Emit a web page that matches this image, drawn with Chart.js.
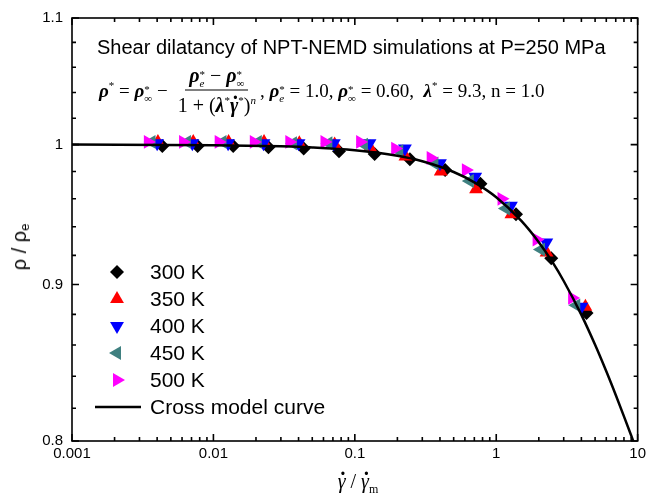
<!DOCTYPE html>
<html>
<head>
<meta charset="utf-8">
<script src="https://cdn.jsdelivr.net/npm/chart.js@4.4.1/dist/chart.umd.min.js"></script>
<style>
html,body{margin:0;padding:0;background:#fff;}
#wrap{position:relative;width:650px;height:502px;overflow:hidden;}
#c{position:absolute;left:0;top:0;}
.ann{position:absolute;white-space:nowrap;color:#000;line-height:1;}
#title{left:97px;top:47px;transform:translateY(-50%);font:20px "Liberation Sans",Arial,sans-serif;}
#ytitle{left:20px;top:247px;transform:translate(-50%,-50%) rotate(-90deg);font:20px "Liberation Sans",Arial,sans-serif;}
#ytitle sub{font-size:13px;vertical-align:-3px;}
#xtitle{left:358px;top:483px;transform:translate(-50%,-50%);font:20px "Liberation Serif","Times New Roman",serif;}
#xtitle sub{font-size:12px;vertical-align:-5px;}
#formula{left:99px;top:90px;transform:translateY(-50%);font:19px "Liberation Serif","Times New Roman",serif;display:flex;align-items:center;}
.v{font-weight:bold;font-style:italic;}
.ss{display:inline-block;font-size:11px;line-height:9px;vertical-align:-5px;}
.ss span{display:block;}
.sp{font-size:11px;vertical-align:8px;}
.frac{display:inline-flex;flex-direction:column;align-items:center;margin:0 4px 0 10px;font-size:20px;}
.frac .num{padding:0 4px 2px 4px;border-bottom:1.3px solid #000;}
.frac .den{padding-top:3px;}
.it{font-style:italic;}
/* gamma with an over-dot */
.gd{position:relative;display:inline-block;}
.gd .dt{position:absolute;left:0.12em;right:0;text-align:center;top:-0.38em;font-weight:bold;}
</style>
</head>
<body>
<div id="wrap">
<canvas id="c" width="650" height="502"></canvas>
<div id="title" class="ann">Shear dilatancy of NPT-NEMD simulations at P=250 MPa</div>
<div id="formula" class="ann">
  <span><span class="v">ρ</span><span class="sp">*</span> = <span class="v">ρ</span><span class="ss"><span>*</span><span>∞</span></span> −</span>
  <span class="frac">
    <span class="num"><span class="v">ρ</span><span class="ss"><span>*</span><span class="it">e</span></span> − <span class="v">ρ</span><span class="ss"><span>*</span><span>∞</span></span></span>
    <span class="den">1 + (<span class="v">λ</span><span class="sp">*</span><span class="gd v">γ<span class="dt">·</span></span><span class="sp">*</span>)<span class="sp it">n</span></span>
  </span>
  <span>, <span class="v">ρ</span><span class="ss"><span>*</span><span class="it">e</span></span> = 1.0, <span class="v">ρ</span><span class="ss"><span>*</span><span>∞</span></span> = 0.60,&nbsp; <span class="v">λ</span><span class="sp">*</span> = 9.3, n = 1.0</span>
</div>
<div id="ytitle" class="ann">ρ / ρ<sub>e</sub></div>
<div id="xtitle" class="ann"><span class="gd it">γ<span class="dt">·</span></span> / <span class="gd it">γ<span class="dt">·</span></span><sub>m</sub></div>
</div>
<script>
// ---- data ----
const xMajor=[0.001,0.01,0.1,1,10];
const yMajor=[0.8,0.9,1,1.1];
const yMinor=[0.82,0.84,0.86,0.88,0.92,0.94,0.96,0.98,1.02,1.04,1.06,1.08];

const x300=[0.00435,0.00773,0.0138,0.0245,0.0435,0.0773,0.138,0.245,0.435,0.773,1.38,2.45,4.35];
const y300=[0.999,0.999,0.999,0.998,0.997,0.995,0.993,0.989,0.981,0.971,0.949,0.918,0.881];
const x350=[0.00405,0.0072,0.0128,0.0228,0.0405,0.072,0.128,0.228,0.405,0.72,1.28,2.27,4.27];
const y350=[1.002,1.002,1.002,1.002,1.001,1.000,0.998,0.991,0.980,0.967,0.949,0.922,0.885];
const x400=[0.0040,0.0071,0.0127,0.0226,0.040,0.071,0.127,0.226,0.40,0.71,1.27,2.26,4.0];
const y400=[1.001,1.001,1.001,1.001,1.001,1.001,1.001,0.997,0.986,0.976,0.955,0.929,0.885];
const x450=[0.00365,0.0065,0.0116,0.0206,0.0365,0.065,0.116,0.206,0.365,0.65,1.17,2.07,3.68];
const y450=[1.002,1.002,1.002,1.002,1.001,1.001,1.000,0.995,0.986,0.973,0.953,0.924,0.886];
const x500=[0.00344,0.0061,0.0109,0.0193,0.0344,0.061,0.109,0.193,0.344,0.61,1.09,1.93,3.44];
const y500=[1.002,1.002,1.002,1.002,1.002,1.002,1.002,0.997,0.990,0.981,0.960,0.931,0.891];

// Cross model curve
const xCurve=[0.001,0.01,0.03,0.05,0.1,0.2,0.3,0.5,0.7,1,1.5,2,2.5,3,4,5,6,7,8,9,9.3];
const yCurve=[1.0,0.9996,0.9987,0.9979,0.9958,0.9916,0.9875,0.9796,0.972,0.9612,0.9444,0.9292,0.9153,0.9024,0.8797,0.8601,0.8431,0.8282,0.815,0.8033,0.8];

const pts=(xs,ys)=>xs.map((x,i)=>({x:x,y:ys[i]}));
const SANS='"Liberation Sans", Arial, sans-serif';

function sym(label,xs,ys,color,style,rot,order){
  return {label,data:pts(xs,ys),showLine:false,backgroundColor:color,borderColor:color,
    pointStyle:style,pointRotation:rot,pointRadius:style==='rectRot'?7:8,pointBorderWidth:0,pointHoverRadius:8,order};
}
const datasets=[
  sym('300 K',x300,y300,'#000000','rectRot',0,5),
  sym('350 K',x350,y350,'#ff0000','triangle',0,4),
  sym('400 K',x400,y400,'#0000ff','triangle',180,3),
  sym('450 K',x450,y450,'#3f8080','triangle',270,2),
  sym('500 K',x500,y500,'#ff00ff','triangle',90,1),
  {label:'Cross model curve',data:pts(xCurve,yCurve),showLine:true,borderColor:'#000',borderWidth:2.5,
   pointRadius:0,cubicInterpolationMode:'monotone',order:0}
];

// frame with inward ticks on all four sides (Origin look)
const frame={id:'frame',afterDatasetsDraw(chart){
  const {ctx,chartArea:a,scales:{x,y}}=chart;
  ctx.save();
  ctx.strokeStyle='#000';ctx.lineWidth=1.6;
  ctx.strokeRect(a.left,a.top,a.right-a.left,a.bottom-a.top);
  ctx.beginPath();
  const xt=(v,len)=>{const p=x.getPixelForValue(v);ctx.moveTo(p,a.bottom);ctx.lineTo(p,a.bottom-len);ctx.moveTo(p,a.top);ctx.lineTo(p,a.top+len);};
  const yt=(v,len)=>{const p=y.getPixelForValue(v);ctx.moveTo(a.left,p);ctx.lineTo(a.left+len,p);ctx.moveTo(a.right,p);ctx.lineTo(a.right-len,p);};
  xMajor.forEach(v=>xt(v,7));
  xMajor.slice(0,-1).forEach(d=>{for(let m=2;m<10;m++) xt(m*d,4);});
  yMajor.forEach(v=>yt(v,7));
  yMinor.forEach(v=>yt(v,4));
  ctx.stroke();
  ctx.restore();
}};

// legend inside the plot, bottom-left
const legendBox={id:'legendBox',afterDraw(chart){
  const ctx=chart.ctx;
  ctx.save();
  ctx.font='21px '+SANS;ctx.textBaseline='middle';
  chart.data.datasets.forEach((ds,i)=>{
    const yy=272+i*27;
    if(ds.showLine){
      ctx.strokeStyle=ds.borderColor;ctx.lineWidth=ds.borderWidth;
      ctx.beginPath();ctx.moveTo(95,yy);ctx.lineTo(141,yy);ctx.stroke();
    }else{
      ctx.fillStyle=ds.backgroundColor;
      Chart.helpers.drawPoint(ctx,{pointStyle:ds.pointStyle,rotation:ds.pointRotation,radius:ds.pointRadius,borderWidth:0},117,yy);
    }
    ctx.fillStyle='#000';
    ctx.fillText(ds.label,150,yy+1);
  });
  ctx.restore();
}};

new Chart(document.getElementById('c'),{
  type:'scatter',
  data:{datasets},
  options:{responsive:false,animation:false,
    layout:{padding:{top:16,right:10,left:0,bottom:0}},
    plugins:{legend:{display:false},tooltip:{enabled:false}},
    scales:{
      x:{type:'logarithmic',min:0.001,max:10,
        afterBuildTicks:s=>{s.ticks=xMajor.map(v=>({value:v}));},
        afterFit:s=>{s.height=61;},
        grid:{display:false,drawTicks:false},border:{display:false},
        ticks:{color:'#000',font:{family:SANS,size:15},padding:4,maxRotation:0,autoSkip:false,callback:v=>String(v)}},
      y:{type:'logarithmic',min:0.8,max:1.1,
        afterBuildTicks:s=>{s.ticks=yMajor.map(v=>({value:v}));},
        afterFit:s=>{s.width=72;},
        grid:{display:false,drawTicks:false},border:{display:false},
        ticks:{color:'#000',font:{family:SANS,size:15},padding:9,autoSkip:false,callback:v=>String(v)}}
    }
  },
  plugins:[frame,legendBox]
});
</script>
</body>
</html>
